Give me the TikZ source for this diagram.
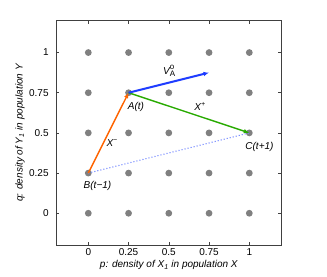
\documentclass[tikz,border=0pt]{standalone}
\usepackage{fontspec}
\setmainfont{Liberation Sans}
\usepackage{xcolor}
\usetikzlibrary{arrows.meta}
\definecolor{dotgray}{RGB}{128,128,128}
\definecolor{vblue}{RGB}{30,60,255}
\definecolor{xgreen}{RGB}{40,170,0}
\definecolor{xorange}{RGB}{255,100,0}
\definecolor{pathblue}{RGB}{120,140,255}
\tikzset{
  tick/.style={black!75, line width=0.5pt},
  lab/.style={font=\fontsize{10}{12}\selectfont\itshape, inner sep=1pt},
  axlab/.style={font=\fontsize{10}{12}\selectfont\itshape},
  vec/.style={->, line width=1.4pt}
}

\begin{document}
\begin{tikzpicture}[x=161pt, y=160.7pt, font=\fontsize{10}{12}\selectfont, >={Latex[length=5.5pt,width=4.5pt]}]
  \useasboundingbox (-0.5485,-0.396) rectangle (1.4826,1.327);
  % frame, ticks and grid of states
  \draw[tick, line width=0.6pt] (-0.2,-0.2) rectangle (1.2,1.2);
  \foreach \v [count=\i] in {0,0.25,0.5,0.75,1} {
    \draw[tick] (\v,-0.2) -- ++(0,0.02) (\v,1.2) -- ++(0,-0.02);
    \draw[tick] (-0.2,\v) -- ++(0.02,0) (1.2,\v) -- ++(-0.02,0);
    \node[below] (xt\i) at (\v,-0.2) {\v};
    \node[left=4pt] (yt\i) at (-0.2,\v) {\v};
    \foreach \w in {0,0.25,0.5,0.75,1}
      \fill[dotgray] (\v,\w) circle (3.4pt);
  }
  \node[axlab] (xlab) at (0.5,-0.322) {p: density of X\textsubscript{1} in population X};
  \node[axlab, rotate=90] (ylab) at (-0.424,0.5) {q: density of Y\textsubscript{1} in population Y};

  \coordinate (B) at (0,0.25);
  \coordinate (A) at (0.25,0.75);
  \coordinate (C) at (1,0.5);
  \coordinate (V) at (0.75,0.875);
  \draw[pathblue, dotted, line width=1.1pt] (B) -- (C);
  \draw[vec, xorange] (B) -- (A);
  \draw[vec, xgreen] (A) -- (C);
  \draw[vec, vblue, line width=2pt] (A) -- (V);

  \node[lab] (Alab) at (0.296,0.661) {A(t)};
  \node[lab] (Blab) at (0.057,0.17) {B(t−1)};
  \node[lab] (Clab) at (1.063,0.41) {C(t+1)};
  \node[lab] (xplus) at (0.694,0.665) {X\textsuperscript{+}};
  \node[lab] (xminus) at (0.148,0.437) {X\textsuperscript{−}};
  \node[lab] (vlab) at (0.50,0.885) {V\raisebox{-2.5pt}{\rlap{\upshape\footnotesize A}}\raisebox{4.5pt}{\upshape\footnotesize o}};
\end{tikzpicture}
\end{document}
